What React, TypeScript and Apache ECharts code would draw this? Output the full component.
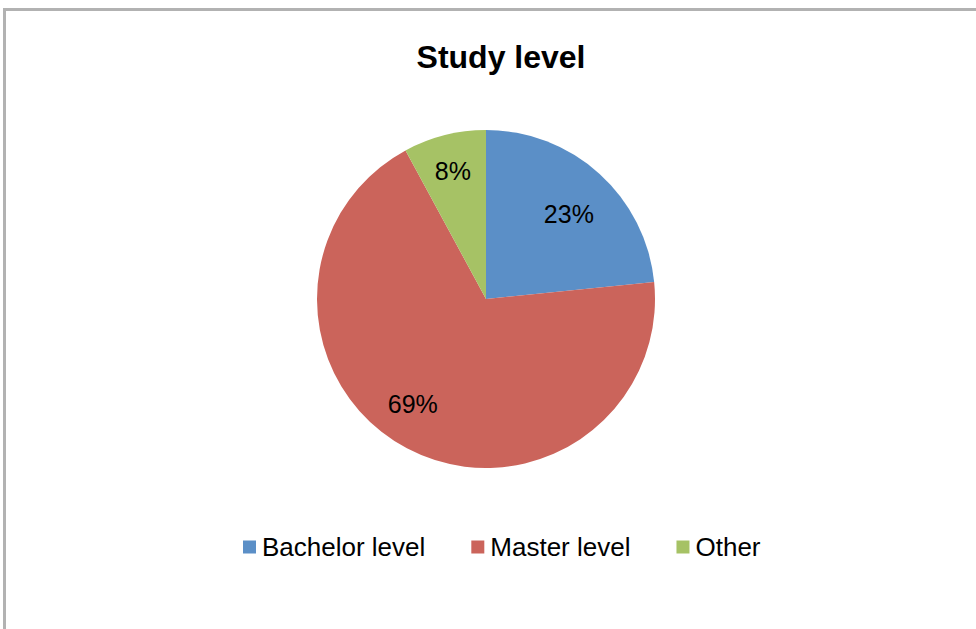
import React, { useEffect, useRef } from "react";
import * as echarts from "echarts";

const chartTitle = "Study level";
const categories = ["Bachelor level", "Master level", "Other"];
const shares = [23.4, 68.7, 7.9];
const colors = ["#5b8fc7", "#cb645b", "#a6c265"];
// small nudges of the in-slice labels, matching the source's placement
const labelNudge = [
  [-2, 9],
  [-14, -7],
  [-2, -5],
];

export default function App() {
  const ref = useRef<HTMLDivElement>(null);
  useEffect(() => {
    document.body.style.margin = "0";
    const chart = echarts.init(ref.current!, null, { renderer: "svg" });
    const data = categories.map((name, i) => ({
      name,
      value: shares[i],
      itemStyle: { color: colors[i] },
    }));
    const font = "'Liberation Sans', Arial, sans-serif";
    chart.setOption({
      animation: false,
      backgroundColor: "#ffffff",
      title: {
        text: chartTitle,
        left: 496,
        textAlign: "center",
        top: 36,
        textStyle: { fontFamily: font, fontWeight: "bold", fontSize: 32, color: "#000" },
      },
      legend: {
        left: 238,
        top: 529,
        itemWidth: 13,
        itemHeight: 13,
        itemGap: 46,
        icon: "rect",
        textStyle: { fontFamily: font, fontSize: 26, color: "#000", padding: [0, 0, 0, 1] },
        data: categories,
      },
      graphic: [
        {
          type: "rect",
          shape: { x: 4.5, y: 9.5, width: 1000, height: 700 },
          style: { fill: "none", stroke: "#b2b2b2", lineWidth: 3 },
          silent: true,
        },
      ],
      series: [
        {
          type: "pie",
          center: [486, 299],
          radius: [0, 169],
          startAngle: 90,
          clockwise: true,
          label: { show: false },
          labelLine: { show: false },
          emphasis: { disabled: true },
          data,
        },
        {
          type: "pie",
          center: [486, 299],
          radius: [78, 169],
          startAngle: 90,
          clockwise: true,
          silent: true,
          itemStyle: { color: "transparent" },
          label: {
            show: true,
            position: "inside",
            fontFamily: font,
            fontSize: 25,
            color: "#000",
            formatter: (p: any) => Math.round(p.value) + "%",
          },
          labelLayout: (p: any) => ({
            dx: labelNudge[p.dataIndex][0],
            dy: labelNudge[p.dataIndex][1],
          }),
          labelLine: { show: false },
          emphasis: { disabled: true },
          data: categories.map((name, i) => ({
            name,
            value: shares[i],
            itemStyle: { color: "rgba(0,0,0,0)" },
          })),
        },
      ],
    });
    return () => chart.dispose();
  }, []);
  return <div ref={ref} style={{ width: 976, height: 629 }} />;
}
